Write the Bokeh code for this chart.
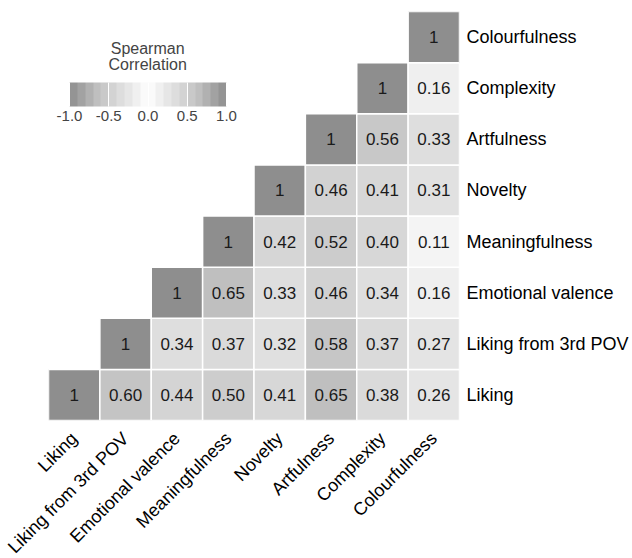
import math
from bokeh.plotting import figure
from bokeh.models import (ColumnDataSource, LinearColorMapper, ColorBar, FixedTicker,
                          PrintfTickFormatter, Label)
from bokeh.core.properties import value
from bokeh.embed import file_html
from bokeh.resources import INLINE

variables = ["Liking", "Liking from 3rd POV", "Emotional valence", "Meaningfulness",
             "Novelty", "Artfulness", "Complexity", "Colourfulness"]

# upper-triangle rows: row i holds correlations with variables i..7
row_liking = [1, 0.60, 0.44, 0.50, 0.41, 0.65, 0.38, 0.26]
row_liking3rd = [1, 0.34, 0.37, 0.32, 0.58, 0.37, 0.27]
row_emotional = [1, 0.65, 0.33, 0.46, 0.34, 0.16]
row_meaning = [1, 0.42, 0.52, 0.40, 0.11]
row_novelty = [1, 0.46, 0.41, 0.31]
row_artful = [1, 0.56, 0.33]
row_complex = [1, 0.16]
row_colour = [1]
rows = [row_liking, row_liking3rd, row_emotional, row_meaning,
        row_novelty, row_artful, row_complex, row_colour]

legend_ticks = [-1.0, -0.5, 0.0, 0.5, 1.0]

FONT = "Liberation Sans"


def grey(v):
    a = abs(v)
    if a <= 0.65:
        g = 255 - a * (64 / 0.65)
    else:
        g = 191 - (a - 0.65) * (50 / 0.35)
    g = int(round(max(0, min(255, g))))
    return "#%02x%02x%02x" % (g, g, g)


n_pal = 256
cell_palette = [grey(-1 + 2 * (i + 0.5) / n_pal) for i in range(n_pal)]
n_bar = 20
bar_palette = [grey(-1 + 2 * (i + 0.5) / n_bar) for i in range(n_bar)]

xs, ys, vals, labels = [], [], [], []
for i, row in enumerate(rows):
    for k, v in enumerate(row):
        j = i + k
        xs.append(variables[j])
        ys.append(variables[i])
        vals.append(v)
        labels.append("1" if v == 1 else "%.2f" % v)

src = ColumnDataSource(dict(x=xs, y=ys, v=vals, label=labels))

mapper = LinearColorMapper(palette=cell_palette, low=-1, high=1)
bar_mapper = LinearColorMapper(palette=bar_palette, low=-1, high=1)

p = figure(x_range=variables, y_range=variables, frame_width=411, frame_height=409,
           y_axis_location="right", output_backend="svg", toolbar_location=None,
           min_border_left=48, min_border_top=11, min_border_right=0, min_border_bottom=0)

p.rect(x="x", y="y", width=1, height=1, source=src,
       fill_color={"field": "v", "transform": mapper},
       line_color="white", line_width=1.5)
p.text(x="x", y="y", text="label", source=src, text_align="center",
       text_baseline="middle", text_font=value(FONT), text_font_size="17px",
       text_color="#1a1a1a")

for ax in (p.xaxis[0], p.yaxis[0]):
    ax.axis_line_color = None
    ax.major_tick_line_color = None
    ax.minor_tick_line_color = None
    ax.major_tick_out = 0
    ax.major_tick_in = 0
    ax.major_label_text_font = FONT
    ax.major_label_text_font_size = "18px"
    ax.major_label_text_color = "#000000"
p.yaxis.major_label_standoff = 7
p.xaxis.major_label_standoff = 15
p.xaxis.major_label_orientation = math.pi / 4
p.xgrid.visible = False
p.ygrid.visible = False
p.outline_line_color = None

cb = ColorBar(color_mapper=bar_mapper, orientation="horizontal", location=(21, 297),
              width=157, height=24, padding=0, margin=0,
              ticker=FixedTicker(ticks=legend_ticks),
              formatter=PrintfTickFormatter(format="%.1f"),
              major_label_text_font=FONT, major_label_text_font_size="15px",
              major_tick_line_color="white", major_tick_in=24, major_tick_out=0,
              minor_tick_line_color=None, bar_line_color=None,
              border_line_color=None, background_fill_alpha=0, label_standoff=4)
p.add_layout(cb)

p.add_layout(Label(x=1.93, y=7.28, text="Spearman", text_align="center",
                   text_baseline="middle", text_font=FONT, text_font_size="16px"))
p.add_layout(Label(x=1.93, y=6.97, text="Correlation", text_align="center",
                   text_baseline="middle", text_font=FONT, text_font_size="16px"))

open("out.html", "w").write(file_html(p, INLINE))
